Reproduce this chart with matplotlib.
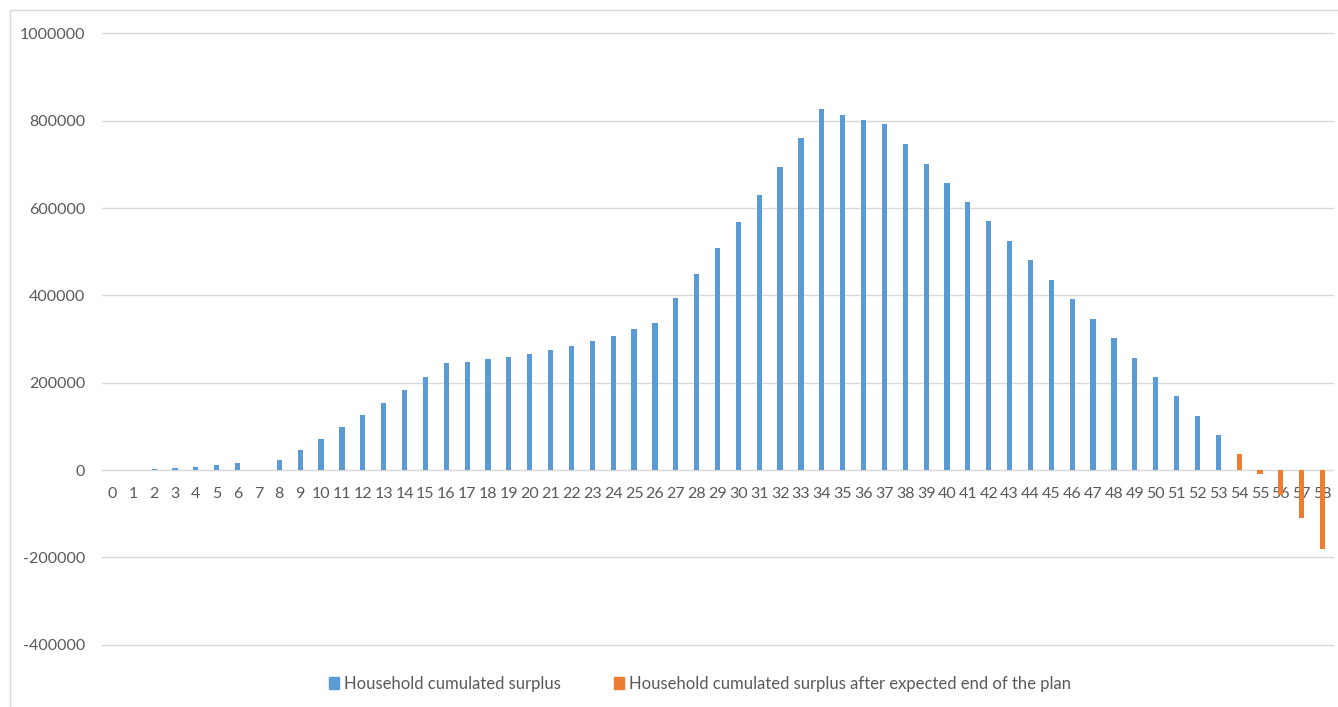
import matplotlib
matplotlib.use("Agg")
import matplotlib.pyplot as plt
from matplotlib.patches import Rectangle, Patch

plt.rcParams['font.family'] = ['Lato', 'DejaVu Sans']

years = list(range(59))

# household cumulated surplus, years 0-53
surplus = [0, 0, 2000, 4600, 7000, 11500, 16700, 0, 22000, 46000,
           72000, 98000, 125000, 153000, 183000, 213000, 245000, 248000, 254000, 259000,
           266000, 275000, 284000, 296000, 308000, 322000, 337000, 393000, 450000, 508000,
           569000, 631000, 694000, 760000, 826000, 813000, 801000, 792000, 746000, 702000,
           658000, 614000, 570000, 525000, 481000, 436000, 392000, 346000, 302000, 257000,
           213000, 169000, 124000, 80000]
# after the expected end of the plan, years 54-58
after_end = [36000, -9000, -57000, -111000, -181000]

yticks = list(range(-400000, 1000001, 200000))

blue = '#5B9BD5'
orange = '#ED7D31'
grey = '#D9D9D9'
txt = '#595959'

fig = plt.figure(figsize=(13.38, 7.07), dpi=100)
ax = fig.add_axes([102/1338, 62.4/707, 1231/1338, 611.1/707])

ax.bar(years[:len(surplus)], surplus, width=0.25, color=blue, zorder=3)
ax.bar(years[len(surplus):], after_end, width=0.25, color=orange, zorder=3)

ax.set_xlim(-0.5, 58.5)
ax.set_ylim(-400000, 1000000)
ax.set_yticks(yticks)
ax.set_yticklabels([str(v) for v in yticks])
ax.set_xticks(years)
ax.set_xticklabels([str(y) for y in years])
ax.grid(axis='y', color=grey, linewidth=1, zorder=0)
for gl in ax.get_ygridlines():
    gl.set_clip_on(False)

for s in ['top', 'right', 'left']:
    ax.spines[s].set_visible(False)
ax.spines['bottom'].set_position(('data', 0))
ax.spines['bottom'].set_color(grey)
ax.spines['bottom'].set_zorder(2)

ax.tick_params(axis='x', length=0, pad=12, labelsize=11.5, labelcolor=txt)
ax.tick_params(axis='y', length=0, pad=12, labelsize=11.5, labelcolor=txt)

handles = [Patch(color=blue, label='Household cumulated surplus'),
           Patch(color=orange, label='Household cumulated surplus after expected end of the plan')]
leg = fig.legend(handles=handles, loc='center', bbox_to_anchor=(0.523, 0.033), ncol=2,
                 frameon=False, fontsize=12, handlelength=0.6, handleheight=0.7,
                 handletextpad=0.3, columnspacing=3.2)
for t in leg.get_texts():
    t.set_color(txt)

# light border around the chart area
fig.patches.append(Rectangle((10/1338, -0.05), 1.2, 1.05 - 10/707, transform=fig.transFigure,
                             fill=False, edgecolor=grey, linewidth=1))

fig.savefig('out.png', dpi=100)
